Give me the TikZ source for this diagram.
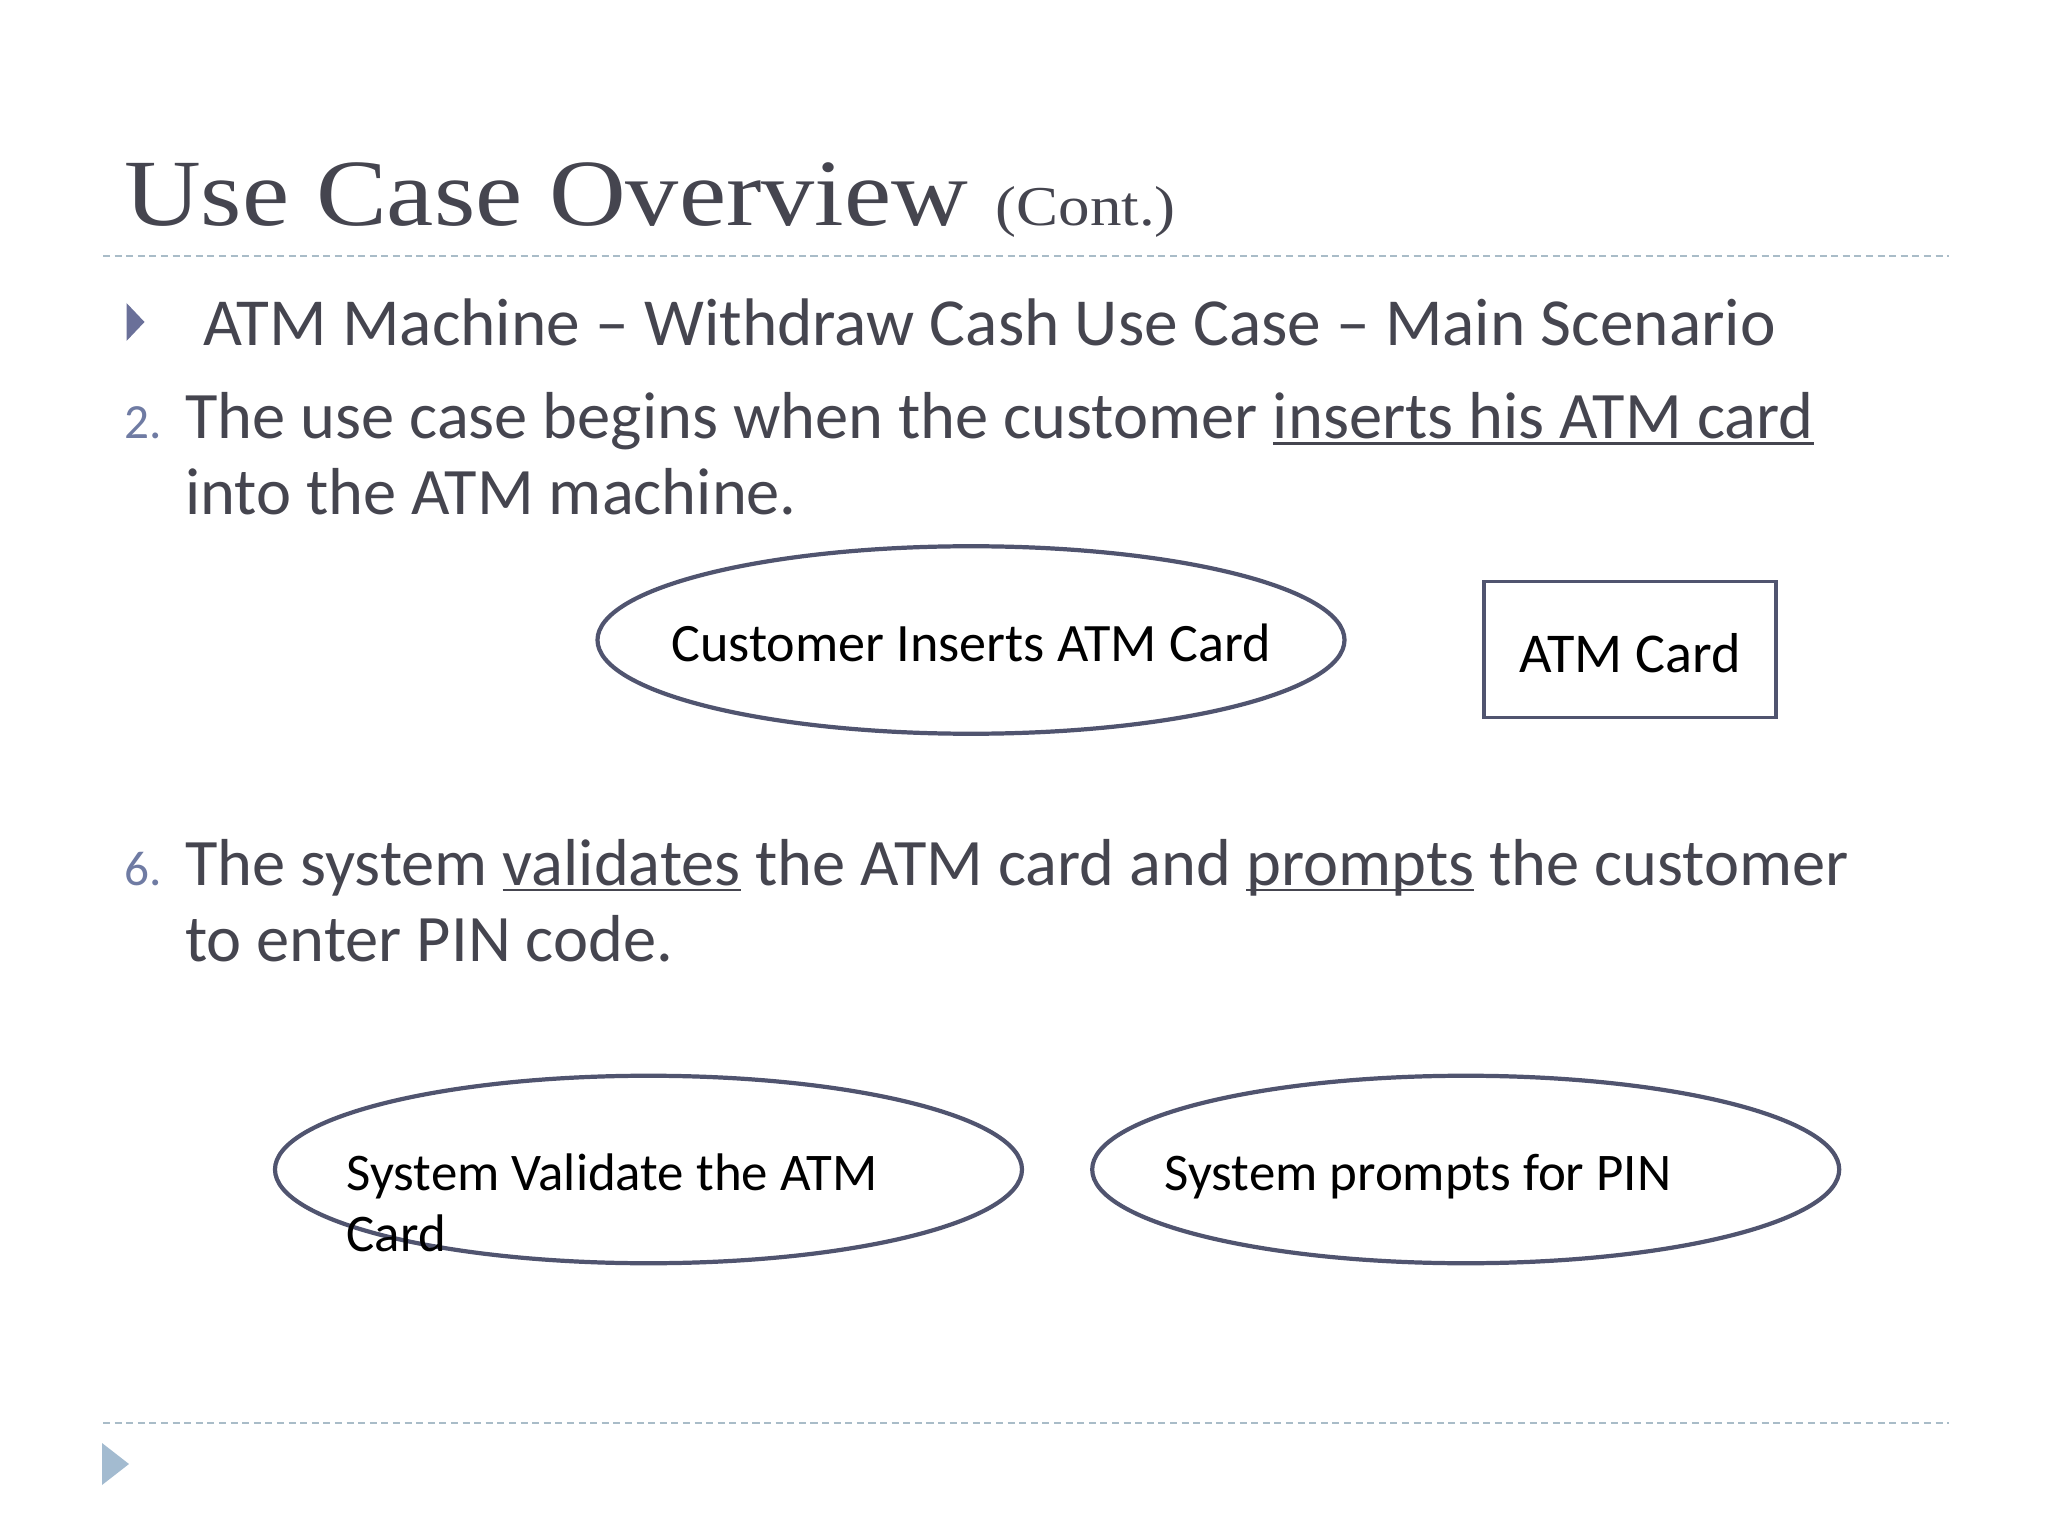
\documentclass[tikz,border=0pt]{standalone}
\usepackage{fontspec}
\setmainfont{Carlito}
\newfontfamily\titlefont[FakeStretch=1.12]{Liberation Serif}
\usetikzlibrary{shapes, shapes.geometric, positioning}
\definecolor{slidetext}{HTML}{45454F}
\definecolor{slideedge}{HTML}{50546F}
\definecolor{slidenum}{HTML}{6F7BA3}
\definecolor{slidebullet}{HTML}{6A7099}
\definecolor{slidepale}{HTML}{A3BBD0}
\definecolor{slidedash}{HTML}{A9BCC8}
\newcommand{\ulword}[1]{\setbox0\hbox{#1}\rlap{\rule[-1.6pt]{\wd0}{0.7pt}}\box0\relax}

\begin{document}
\begin{tikzpicture}[
  body/.style={anchor=base west, inner sep=0pt, text=slidetext, font=\fontsize{18.9}{23}\selectfont},
  num/.style={anchor=base west, inner sep=0pt, text=slidenum, font=\fontsize{14}{17}\selectfont},
  head/.style={anchor=base west, inner sep=0pt, text=slidetext},
  usecase/.style={ellipse, draw=slideedge, line width=1.2pt, minimum width=7.47cm, minimum height=1.875cm, inner sep=0pt},
  item/.style={anchor=base west, inner sep=0pt, font=\fontsize{15.05}{18}\selectfont},
  rulerline/.style={draw=slidedash, line width=0.6pt, dash pattern=on 2pt off 1.3pt}]

  \useasboundingbox (0,0) rectangle (20.48,-15.36);
  \fill[white] (0,0) rectangle (20.48,-15.36);

  % title
  \node[head, font=\titlefont\fontsize{27}{32}\selectfont] (title) at (1.235,-2.26) {Use Case Overview};
  \node[head, font=\titlefont\fontsize{16}{19}\selectfont] (cont) at (9.95,-2.26) {(Cont.)};
  \draw[rulerline] (1.03,-2.56) -- (19.49,-2.56);

  % text
  \fill[slidebullet] (1.265,-3.03) -- (1.445,-3.22) -- (1.265,-3.41) -- cycle;
  \node[body, font=\fontsize{19.15}{23}\selectfont] (scenario) at (2.025,-3.46) {ATM Machine -- Withdraw Cash Use Case -- Main Scenario};
  \node[num] (two) at (1.235,-4.39) {2.};
  \node[body] (stepA) at (1.845,-4.39) {The use case begins when the customer \ulword{inserts his ATM card}};
  \node[body] (stepAb) at (1.845,-5.15) {into the ATM machine.};
  \node[num] (six) at (1.235,-8.855) {6.};
  \node[body] (stepB) at (1.845,-8.855) {The system \ulword{validates} the ATM card and \ulword{prompts} the customer};
  \node[body] (stepBb) at (1.845,-9.615) {to enter PIN code.};

  % use cases
  \node[usecase] (inserts) at (9.71,-6.40) {};
  \node[font=\fontsize{15.4}{18}\selectfont, inner sep=0pt, yshift=-0.025cm] (insertsText) at (inserts) {Customer Inserts ATM Card};
  \node[draw=slideedge, line width=1.1pt, minimum width=2.92cm, minimum height=1.36cm, inner sep=0pt,
    text height=13pt, font=\fontsize{16}{19}\selectfont] (card) at (16.30,-6.495) {ATM Card};

  \node[usecase] (validate) at (6.485,-11.695) {};
  \node[usecase, right=0.66cm of validate] (prompt) {};
  \node[item] (validateA) at (3.46,-11.90) {System Validate the ATM};
  \node[item] (validateB) at (3.46,-12.51) {Card};
  \node[item] (promptA) at (11.64,-11.90) {System prompts for PIN};

  % footer
  \draw[rulerline] (1.03,-14.23) -- (19.49,-14.23);
  \fill[slidepale] (1.02,-14.43) -- (1.29,-14.64) -- (1.02,-14.85) -- cycle;
\end{tikzpicture}
\end{document}
